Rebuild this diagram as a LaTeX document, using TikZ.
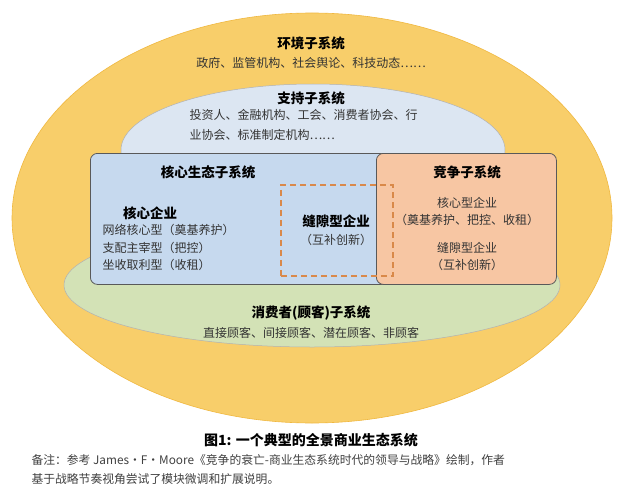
\documentclass[tikz,border=0pt]{standalone}
\usepackage{fontspec}
\setmainfont{Noto Sans CJK SC}
\definecolor{yel}{HTML}{F8CE6A}
\definecolor{yeld}{HTML}{F0B840}
\definecolor{lblue}{HTML}{DCE6F2}
\definecolor{cblue}{HTML}{C6D9EE}
\definecolor{grn}{HTML}{D3E2B6}
\definecolor{org}{HTML}{F7C6A3}
\definecolor{dash}{HTML}{D9894A}
\begin{document}
\begin{tikzpicture}[x=1pt,y=-1pt,
 t/.style={font=\fontsize{12}{13}\selectfont, text=black!80},
 h/.style={font=\fontsize{13.5}{15}\selectfont\bfseries, text=black},
 box/.style={draw=black!65, line width=0.8pt, rounded corners=7pt}]
\useasboundingbox (0,0) rectangle (623,500);
\fill[white] (0,0) rectangle (623,500);
\filldraw[fill=yel, draw=yeld, line width=0.6pt] (312,218) ellipse [x radius=300, y radius=205];
\filldraw[fill=lblue, draw=black!30, line width=0.5pt] (313,150) ellipse [x radius=192, y radius=66];
\filldraw[fill=grn, draw=black!30, line width=0.5pt] (312,285) ellipse [x radius=248, y radius=62];
\node[box, fill=cblue, minimum width=330, minimum height=131, anchor=north west] (core) at (90,153) {};
\node[box, fill=org, minimum width=180, minimum height=131, anchor=north west] (comp) at (376,153) {};
\node[draw=dash, line width=1.6pt, dash pattern=on 6pt off 4pt, minimum width=112, minimum height=91, anchor=north west] (gap) at (280,184) {};
\node[h] (e1) at (311,43) {环境子系统};
\node[t] (e2) at (311,63) {政府、监管机构、社会舆论、科技动态……};
\node[h] (s1) at (311,98) {支持子系统};
\node[t, align=left, anchor=north west, font=\fontsize{12}{20}\selectfont] (s2) at (186,106) {投资人、金融机构、工会、消费者协会、行\\业协会、标准制定机构……};
\node[h] (c1) at (208,172) {核心生态子系统};
\node[h] (c2) at (150,213) {核心企业};
\node[t, align=left, anchor=north west, font=\fontsize{12}{17.5}\selectfont] (c3) at (99,221) {网络核心型（奠基养护）\\支配主宰型（把控）\\坐收取利型（收租）};
\node[h] (g1) at (336,221) {缝隙型企业};
\node[t] (g2) at (336,240) {（互补创新）};
\node[h] (k1) at (467,172) {竞争子系统};
\node[t] (k2) at (467,203) {核心型企业};
\node[t] (k3) at (467,220) {（奠基养护、把控、收租）};
\node[t] (k4) at (467,248) {缝隙型企业};
\node[t] (k5) at (467,265) {（互补创新）};
\node[h] (x1) at (311,313) {消费者(顾客)子系统};
\node[t] (x2) at (311,333) {直接顾客、间接顾客、潜在顾客、非顾客};
\node[h, font=\fontsize{14}{15}\selectfont\bfseries] (ti) at (311,440) {图1: 一个典型的全景商业生态系统};
\node[t, align=left, anchor=north west, text=black!75, font=\fontsize{11.8}{19}\selectfont] (no) at (28,451) {备注：参考 James·F·Moore《竞争的衰亡-商业生态系统时代的领导与战略》绘制，作者\\基于战略节奏视角尝试了模块微调和扩展说明。};
\end{tikzpicture}
\end{document}
